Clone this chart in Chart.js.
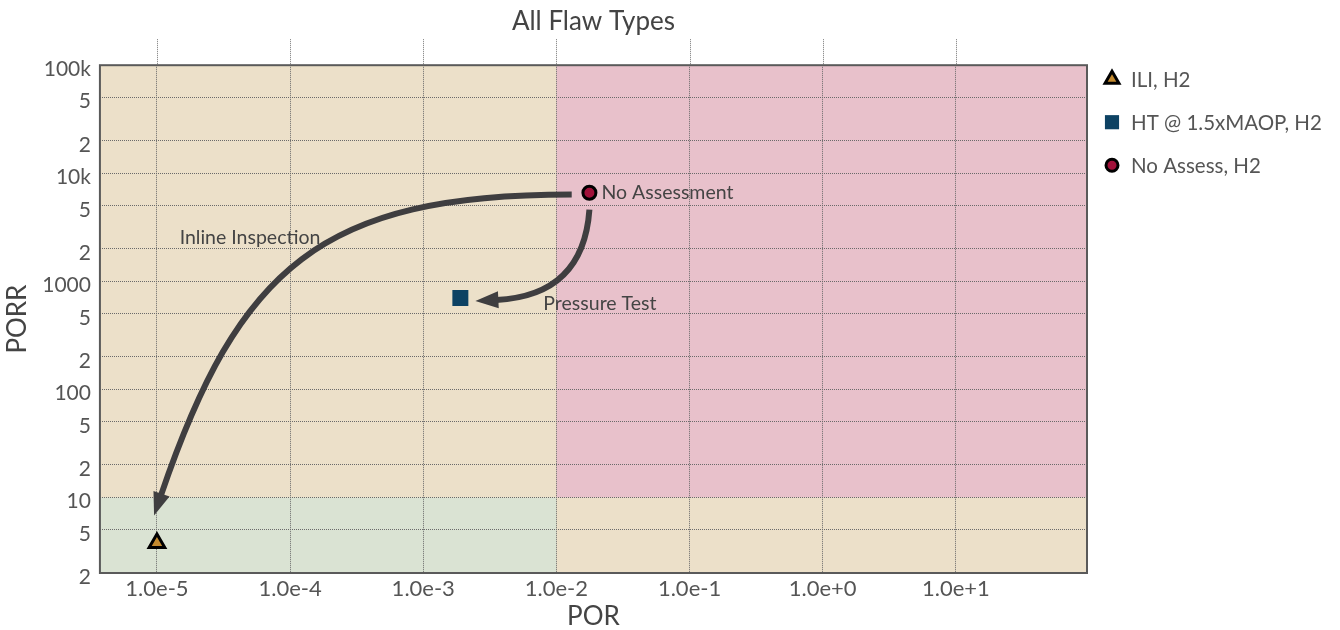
<!DOCTYPE html>
<html>
<head>
<meta charset="utf-8">
<title>All Flaw Types</title>
<script src="https://cdn.jsdelivr.net/npm/chart.js@4.4.1/dist/chart.umd.min.js"></script>
<style>
  html, body { margin: 0; padding: 0; background: #ffffff; }
  #wrap { width: 1340px; height: 630px; position: relative; }
</style>
</head>
<body>
<div id="wrap"><canvas id="chart"></canvas></div>
<script>
// Ejes (ticks fijos)
const POR_TICKS = [1e-5, 1e-4, 1e-3, 1e-2, 1e-1, 1, 10];
const PORR_TICKS = [2, 5, 10, 20, 50, 100, 200, 500, 1000, 2000, 5000, 10000, 20000, 50000, 100000];
const POR_RANGE = [3.73e-6, 96.6];
const PORR_RANGE = [2, 100000];

// Series (un punto cada una)
const SERIES_LABELS = ["ILI, H2", "HT @ 1.5xMAOP, H2", "No Assess, H2"];
const ILI_POINTS = [{ x: 1e-5, y: 3.8 }];
const HT_POINTS = [{ x: 1.9e-3, y: 700 }];
const NO_ASSESS_POINTS = [{ x: 1.77e-2, y: 6600 }];

// Zonas de fondo: limites en datos
const ZONE_POR = 1e-2;
const ZONE_PORR = 10;

// Flechas (bezier en coordenadas de datos: inicio, ctrl1, ctrl2, fin)
const ARROW_INLINE = [[0.01303, 6350], [1.71e-4, 6350], [4.13e-5, 1363], [1.07e-5, 10.4]];
const ARROW_PRESSURE = [[0.0177, 4609], [0.01624, 1032], [0.00745, 703], [0.00354, 673]];

// Textos de anotacion
const NOTE_TEXTS = ["No Assessment", "Inline Inspection", "Pressure Test"];
const NOTE_POS = [[0.0218, 6600], [5.0e-5, 2530], [7.98e-3, 618]];
const NOTE_ALIGN = ["left", "center", "left"];

const FONT = 'Lato, "Open Sans", "DejaVu Sans", sans-serif';
const TEXT_COLOR = "#555555";

function porrLabel(v) {
  if (v === 100000) return "100k";
  if (v === 10000) return "10k";
  const exp = Math.floor(Math.log10(v) + 1e-9);
  const lead = Math.round(v / Math.pow(10, exp));
  if (lead === 1) return String(v);
  return String(lead);
}

const zonesPlugin = {
  id: "zones",
  beforeDraw(chart) {
    const { ctx, chartArea: a, scales } = chart;
    const xs = scales.x.getPixelForValue(ZONE_POR);
    const ys = scales.y.getPixelForValue(ZONE_PORR);
    ctx.save();
    ctx.fillStyle = "#ece0c9";
    ctx.fillRect(a.left, a.top, a.right - a.left, a.bottom - a.top);
    ctx.fillStyle = "#e8c1cb";
    ctx.fillRect(xs, a.top, a.right - xs, ys - a.top);
    ctx.fillStyle = "#dae3d3";
    ctx.fillRect(a.left, ys, xs - a.left, a.bottom - ys);
    ctx.restore();
  },
  afterDraw(chart) {
    const { ctx, chartArea: a, scales } = chart;
    ctx.save();
    // lineas punteadas encima del area
    ctx.strokeStyle = "#777777";
    ctx.lineWidth = 1;
    ctx.setLineDash([1, 1]);
    POR_TICKS.forEach((v) => {
      const px = Math.round(scales.x.getPixelForValue(v)) + 0.5;
      ctx.beginPath();
      ctx.moveTo(px, a.top - 26);
      ctx.lineTo(px, a.top);
      ctx.stroke();
    });
    ctx.setLineDash([]);
    // marco
    ctx.strokeStyle = "#5a5a5a";
    ctx.lineWidth = 2;
    ctx.strokeRect(a.left, a.top, a.right - a.left, a.bottom - a.top);
    ctx.restore();
  },
};

function drawArrow(ctx, pts, color) {
  const [p0, p1, p2, p3] = pts;
  ctx.strokeStyle = color;
  ctx.fillStyle = color;
  ctx.lineWidth = 6;
  ctx.lineCap = "butt";
  ctx.beginPath();
  ctx.moveTo(p0[0], p0[1]);
  ctx.bezierCurveTo(p1[0], p1[1], p2[0], p2[1], p3[0], p3[1]);
  ctx.stroke();
  let dx = p3[0] - p2[0];
  let dy = p3[1] - p2[1];
  const len = Math.hypot(dx, dy);
  dx /= len;
  dy /= len;
  const headLen = 21;
  const headW = 17;
  const tip = [p3[0] + dx * headLen, p3[1] + dy * headLen];
  const back = [p3[0] - dx * 2, p3[1] - dy * 2];
  ctx.beginPath();
  ctx.moveTo(tip[0], tip[1]);
  ctx.lineTo(back[0] - dy * headW / 2, back[1] + dx * headW / 2);
  ctx.lineTo(back[0] + dy * headW / 2, back[1] - dx * headW / 2);
  ctx.closePath();
  ctx.fill();
}

const notesPlugin = {
  id: "notes",
  beforeDatasetsDraw(chart) {
    const { ctx, scales } = chart;
    const toPx = (p) => [scales.x.getPixelForValue(p[0]), scales.y.getPixelForValue(p[1])];
    ctx.save();
    drawArrow(ctx, ARROW_INLINE.map(toPx), "#3f3e40");
    drawArrow(ctx, ARROW_PRESSURE.map(toPx), "#3f3e40");
    ctx.font = "19.5px " + FONT;
    ctx.fillStyle = "#444444";
    ctx.textBaseline = "middle";
    NOTE_TEXTS.forEach((t, i) => {
      const p = toPx(NOTE_POS[i]);
      ctx.textAlign = NOTE_ALIGN[i];
      ctx.fillText(t, p[0], p[1]);
    });
    ctx.restore();
  },
};

// Leyenda dibujada a mano a la derecha
const legendPlugin = {
  id: "sideLegend",
  afterDraw(chart) {
    const { ctx, chartArea: a } = chart;
    ctx.save();
    chart.data.datasets.forEach((ds, i) => {
      const cx = a.right + 25;
      const cy = a.top + 14 + i * 43;
      ctx.fillStyle = ds.backgroundColor;
      ctx.strokeStyle = ds.borderColor;
      ctx.lineWidth = ds.borderWidth;
      ctx.beginPath();
      if (ds.pointStyle === "triangle") {
        const r = ds.legendRadius;
        ctx.moveTo(cx, cy - r);
        ctx.lineTo(cx + r * 0.866, cy + r * 0.5);
        ctx.lineTo(cx - r * 0.866, cy + r * 0.5);
        ctx.closePath();
      } else if (ds.pointStyle === "rect") {
        const s = ds.legendRadius * Math.SQRT1_2;
        ctx.rect(cx - s, cy - s, 2 * s, 2 * s);
      } else {
        ctx.arc(cx, cy, ds.legendRadius, 0, Math.PI * 2);
      }
      ctx.fill();
      if (ds.borderWidth > 0) ctx.stroke();
      ctx.font = "20.5px " + FONT;
      ctx.fillStyle = TEXT_COLOR;
      ctx.textAlign = "left";
      ctx.textBaseline = "middle";
      ctx.fillText(ds.label, a.right + 44, cy + 1);
    });
    ctx.restore();
  },
};

const ctx = document.getElementById("chart").getContext("2d");
new Chart(ctx, {
  type: "scatter",
  data: {
    datasets: [
      {
        label: SERIES_LABELS[0],
        data: ILI_POINTS,
        pointStyle: "triangle",
        pointRadius: 9,
        legendRadius: 8,
        backgroundColor: "#c38a2f",
        borderColor: "#000000",
        borderWidth: 3,
      },
      {
        label: SERIES_LABELS[1],
        data: HT_POINTS,
        pointStyle: "rect",
        pointRadius: 11.3,
        legendRadius: 10,
        backgroundColor: "#0d4263",
        borderColor: "#0d4263",
        borderWidth: 0,
      },
      {
        label: SERIES_LABELS[2],
        data: NO_ASSESS_POINTS,
        pointStyle: "circle",
        pointRadius: 6.5,
        legendRadius: 6,
        backgroundColor: "#a1113a",
        borderColor: "#000000",
        borderWidth: 3,
      },
    ],
  },
  options: {
    responsive: true,
    maintainAspectRatio: false,
    animation: false,
    layout: { padding: { left: 2, right: 253, top: 0, bottom: 0 } },
    plugins: {
      legend: { display: false },
      tooltip: { enabled: false },
      title: {
        display: true,
        text: "All Flaw Types",
        fullSize: false,
        color: "#444444",
        font: { family: FONT, size: 26, weight: "normal" },
        padding: { top: 6, bottom: 28 },
      },
    },
    scales: {
      x: {
        type: "logarithmic",
        min: POR_RANGE[0],
        max: POR_RANGE[1],
        afterBuildTicks: (scale) => {
          scale.ticks = POR_TICKS.map((v) => ({ value: v }));
        },
        ticks: {
          autoSkip: false,
          maxRotation: 0,
          padding: 4.5,
          color: TEXT_COLOR,
          font: { family: FONT, size: 22, lineHeight: 1 },
          callback: (v) => Number(v).toExponential(1),
        },
        grid: {
          color: "#6a6a6a",
          lineWidth: 1,
          drawTicks: false,
        },
        border: { display: false, dash: [1, 1] },
        title: {
          display: true,
          text: "POR",
          color: "#444444",
          font: { family: FONT, size: 26, lineHeight: 1 },
          padding: { top: 0, bottom: 0 },
        },
      },
      y: {
        type: "logarithmic",
        min: PORR_RANGE[0],
        max: PORR_RANGE[1],
        afterBuildTicks: (scale) => {
          scale.ticks = PORR_TICKS.map((v) => ({ value: v }));
        },
        ticks: {
          autoSkip: false,
          padding: 9,
          labelOffset: 4,
          color: TEXT_COLOR,
          font: { family: FONT, size: 21 },
          callback: (v) => porrLabel(Number(v)),
        },
        grid: {
          color: "#6a6a6a",
          lineWidth: 1,
          drawTicks: false,
        },
        border: { display: false, dash: [1, 1] },
        title: {
          display: true,
          text: "PORR",
          color: "#444444",
          font: { family: FONT, size: 26 },
          padding: { top: 0, bottom: 0 },
        },
      },
    },
  },
  plugins: [zonesPlugin, notesPlugin, legendPlugin],
});
</script>
</body>
</html>
